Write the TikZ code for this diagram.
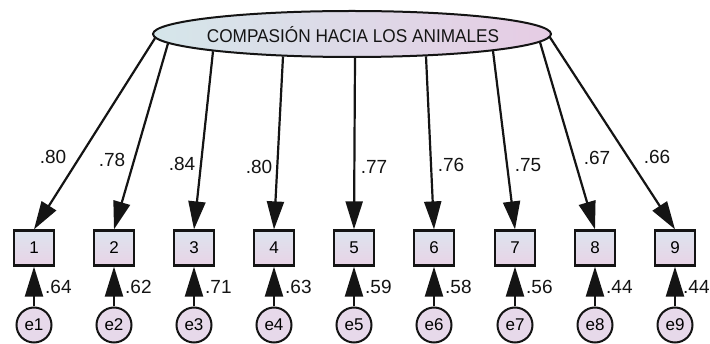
\documentclass[tikz,border=0pt]{standalone}
\usepackage{fontspec}
\setmainfont{Liberation Sans}
\newfontfamily\titlefont[FakeStretch=0.93]{Liberation Sans}
\usetikzlibrary{arrows.meta,shapes.geometric,calc}
\definecolor{ellL}{HTML}{D5E6EA}
\definecolor{ellR}{HTML}{E6CCE4}
\definecolor{boxT}{HTML}{DDE4EE}
\definecolor{boxB}{HTML}{E8D3E6}
\definecolor{errF}{HTML}{E7D9EA}
\definecolor{ink}{HTML}{141414}
\begin{document}
\begin{tikzpicture}[x=1pt,y=-1pt,
  lat/.style={ellipse, draw=ink, line width=2pt, minimum width=398pt, minimum height=46pt, inner sep=0pt, left color=ellL, right color=ellR},
  obs/.style={rectangle, draw=ink, line width=2.2pt, minimum width=40pt, minimum height=35pt, inner sep=0pt, top color=boxT, bottom color=boxB, font=\fontsize{17}{17}\selectfont},
  err/.style={circle, draw=ink, line width=2pt, minimum size=35pt, inner sep=0pt, fill=errF, font=\fontsize{17}{17}\selectfont},
  load/.style={draw=ink, line width=2.2pt, -{Triangle[length=28pt,width=17pt]}},
  resid/.style={draw=ink, line width=2.2pt, -{Triangle[length=30pt,width=18pt]}},
  lbl/.style={inner sep=0pt, text=ink, font=\fontsize{19}{19}\selectfont},
]
\useasboundingbox (0,0) rectangle (710,344);
\fill[white] (0,0) rectangle (710,344);

\node[lat] (L) at (352,34) {};
\node[inner sep=0pt, text=ink, font=\titlefont\fontsize{18.5}{18.5}\selectfont] (T) at (353,35) {COMPASIÓN HACIA LOS ANIMALES};

% start points on the ellipse
\coordinate (s1) at (155,38.2);
\coordinate (s2) at (168,43.4);
\coordinate (s3) at (213,51.3);
\coordinate (s4) at (283,56.5);
\coordinate (s5) at (355,58);
\coordinate (s6) at (426,56.3);
\coordinate (s7) at (493,51);
\coordinate (s8) at (540,42.2);
\coordinate (s9) at (550,37.4);

\foreach \i/\x in {1/34,2/114,3/194,4/274,5/354,6/434,7/515,8/595,9/675}{
  \node[obs] (b\i) at (\x,248) {\i};
  \node[err] (e\i) at (\x,325) {e\i};
  \draw[load] (s\i) -- (b\i.north);
  \draw[resid] (e\i.north) -- (b\i.south);
}

% loadings
\node[lbl] (l1) at (53,157) {.80};
\node[lbl] (l2) at (112,160) {.78};
\node[lbl] (l3) at (182,164) {.84};
\node[lbl] (l4) at (259,167) {.80};
\node[lbl] (l5) at (374,167) {.77};
\node[lbl] (l6) at (451,165) {.76};
\node[lbl] (l7) at (528,165) {.75};
\node[lbl] (l8) at (597,158) {.67};
\node[lbl] (l9) at (657,157) {.66};

% squared multiple correlations
\foreach \i/\v in {1/.64,2/.62,3/.71,4/.63,5/.59,6/.58,7/.56,8/.44}{
  \node[lbl, anchor=west] (r\i) at ($(b\i.south)+(11,20)$) {\v};
}
\node[lbl, anchor=west] (r9) at ($(b9.south)+(8,20)$) {.44};
\end{tikzpicture}
\end{document}
